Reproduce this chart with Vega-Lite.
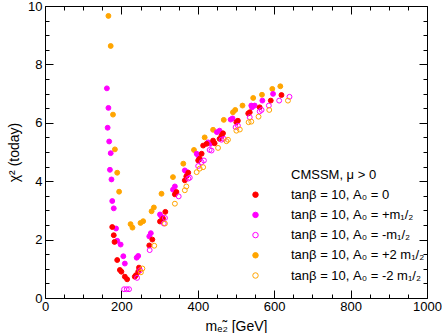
{
  "$schema": "https://vega.github.io/schema/vega-lite/v6.json",
  "autosize": "none",
  "width": 382,
  "height": 292,
  "padding": {"left": 45, "top": 6, "right": 15, "bottom": 35},
  "config": {
    "font": "Liberation Sans",
    "view": {"stroke": "black", "strokeWidth": 1},
    "axis": {"grid": false, "domain": false, "tickColor": "black", "labelColor": "black", "titleColor": "black", "labelFont": "Liberation Sans", "titleFont": "Liberation Sans", "labelFontSize": 13, "titleFontSize": 14, "titleFontWeight": "normal", "labelOverlap": false, "labelFlush": false}
  },
  "data": {"values": [
    {"s":"d","x":166,"y":9.66},{"s":"d","x":172,"y":8.63},{"s":"d","x":178,"y":6.28},{"s":"d","x":183,"y":5.09},{"s":"d","x":189,"y":4.29},{"s":"d","x":194,"y":3.64},{"s":"d","x":224,"y":2.53},{"s":"d","x":229,"y":2.41},{"s":"d","x":250,"y":2.57},{"s":"d","x":257,"y":2.63},{"s":"d","x":279,"y":2.97},{"s":"d","x":285,"y":3.10},{"s":"d","x":305,"y":3.57},{"s":"d","x":335,"y":4.14},{"s":"d","x":362,"y":4.60},{"s":"d","x":390,"y":5.07},{"s":"d","x":418,"y":5.50},{"s":"d","x":440,"y":5.76},{"s":"d","x":468,"y":6.10},{"s":"d","x":492,"y":6.36},{"s":"d","x":498,"y":6.44},{"s":"d","x":517,"y":6.59},{"s":"d","x":545,"y":6.85},{"s":"d","x":568,"y":6.96},{"s":"d","x":595,"y":7.16},{"s":"d","x":616,"y":7.25},
    {"s":"b","x":162,"y":7.18},{"s":"b","x":166,"y":6.51},{"s":"b","x":164,"y":5.83},{"s":"b","x":168,"y":5.36},{"s":"b","x":172,"y":4.96},{"s":"b","x":170,"y":4.39},{"s":"b","x":174,"y":4.06},{"s":"b","x":176,"y":3.32},{"s":"b","x":180,"y":3.07},{"s":"b","x":186,"y":2.38},{"s":"b","x":189,"y":1.96},{"s":"b","x":198,"y":1.83},{"s":"b","x":205,"y":1.43},{"s":"b","x":209,"y":1.18},{"s":"b","x":240,"y":1.38},{"s":"b","x":244,"y":1.44},{"s":"b","x":273,"y":2.11},{"s":"b","x":277,"y":2.22},{"s":"b","x":301,"y":2.86},{"s":"b","x":305,"y":2.78},{"s":"b","x":335,"y":3.71},{"s":"b","x":340,"y":3.82},{"s":"b","x":366,"y":4.37},{"s":"b","x":372,"y":4.31},{"s":"b","x":397,"y":4.94},{"s":"b","x":401,"y":4.88},{"s":"b","x":427,"y":5.33},{"s":"b","x":433,"y":5.28},{"s":"b","x":450,"y":5.68},{"s":"b","x":457,"y":5.73},{"s":"b","x":486,"y":6.11},{"s":"b","x":491,"y":6.15},{"s":"b","x":540,"y":6.59},{"s":"b","x":542,"y":6.53},{"s":"b","x":549,"y":6.59},{"s":"b","x":569,"y":6.76},{"s":"b","x":597,"y":6.99},
    {"s":"a","x":176,"y":2.43},{"s":"a","x":180,"y":2.15},{"s":"a","x":182,"y":1.92},{"s":"a","x":189,"y":1.30},{"s":"a","x":196,"y":0.96},{"s":"a","x":200,"y":0.90},{"s":"a","x":209,"y":0.73},{"s":"a","x":215,"y":0.64},{"s":"a","x":235,"y":0.73},{"s":"a","x":238,"y":0.78},{"s":"a","x":244,"y":0.90},{"s":"a","x":246,"y":1.04},{"s":"a","x":273,"y":1.80},{"s":"a","x":281,"y":2.00},{"s":"a","x":301,"y":2.62},{"s":"a","x":309,"y":2.72},{"s":"a","x":315,"y":2.95},{"s":"a","x":340,"y":3.55},{"s":"a","x":344,"y":3.63},{"s":"a","x":366,"y":4.03},{"s":"a","x":370,"y":4.17},{"s":"a","x":375,"y":4.29},{"s":"a","x":401,"y":4.71},{"s":"a","x":405,"y":4.77},{"s":"a","x":410,"y":4.94},{"s":"a","x":414,"y":5.22},{"s":"a","x":423,"y":5.28},{"s":"a","x":440,"y":5.39},{"s":"a","x":444,"y":5.30},{"s":"a","x":457,"y":5.45},{"s":"a","x":462,"y":5.56},{"s":"a","x":466,"y":5.64},{"s":"a","x":501,"y":6.02},{"s":"a","x":505,"y":6.07},{"s":"a","x":532,"y":6.32},{"s":"a","x":536,"y":6.36},{"s":"a","x":562,"y":6.53},{"s":"a","x":591,"y":6.76},{"s":"a","x":619,"y":6.95},
    {"s":"c","x":207,"y":0.30},{"s":"c","x":214,"y":0.30},{"s":"c","x":220,"y":0.30},{"s":"c","x":241,"y":0.69},{"s":"c","x":249,"y":0.95},{"s":"c","x":274,"y":1.64},{"s":"c","x":311,"y":2.55},{"s":"c","x":314,"y":2.74},{"s":"c","x":350,"y":3.48},{"s":"c","x":375,"y":4.09},{"s":"c","x":379,"y":4.12},{"s":"c","x":401,"y":4.52},{"s":"c","x":410,"y":4.65},{"s":"c","x":416,"y":4.71},{"s":"c","x":431,"y":5.07},{"s":"c","x":436,"y":5.05},{"s":"c","x":462,"y":5.42},{"s":"c","x":468,"y":5.45},{"s":"c","x":499,"y":5.85},{"s":"c","x":505,"y":5.90},{"s":"c","x":536,"y":6.19},{"s":"c","x":562,"y":6.39},{"s":"c","x":567,"y":6.44},{"s":"c","x":586,"y":6.59},{"s":"c","x":613,"y":6.76},{"s":"c","x":640,"y":6.89},
    {"s":"e","x":251,"y":0.88},{"s":"e","x":255,"y":1.01},{"s":"e","x":286,"y":1.79},{"s":"e","x":314,"y":2.55},{"s":"e","x":340,"y":3.23},{"s":"e","x":366,"y":3.69},{"s":"e","x":370,"y":3.82},{"s":"e","x":397,"y":4.31},{"s":"e","x":405,"y":4.43},{"s":"e","x":414,"y":4.48},{"s":"e","x":453,"y":5.14},{"s":"e","x":475,"y":5.37},{"s":"e","x":479,"y":5.42},{"s":"e","x":501,"y":5.73},{"s":"e","x":510,"y":5.77},{"s":"e","x":533,"y":6.02},{"s":"e","x":540,"y":6.04},{"s":"e","x":559,"y":6.21},{"s":"e","x":587,"y":6.44},{"s":"e","x":636,"y":6.76}
  ]},
  "layer": [
    {
      "mark": {"type": "point", "shape": "circle", "size": 24, "strokeWidth": 1, "opacity": 1},
      "encoding": {
        "x": {"field": "x", "type": "quantitative", "scale": {"domain": [0, 1000], "nice": false, "zero": false},
          "axis": {"orient": "bottom", "title": "mₑ̃₂ [GeV]", "titlePadding": 2,
            "values": [0,50,100,150,200,250,300,350,400,450,500,550,600,650,700,750,800,850,900,950,1000],
            "labelExpr": "datum.value % 200 === 0 ? format(datum.value, 'd') : ''",
            "tickSize": {"condition": {"test": "datum.value % 200 === 0", "value": -8}, "value": -4},
            "labelPadding": 10}},
        "y": {"field": "y", "type": "quantitative", "scale": {"domain": [0, 10], "nice": false, "zero": false},
          "axis": {"orient": "left", "title": "χ² (today)", "titlePadding": 6,
            "values": [0,0.5,1,1.5,2,2.5,3,3.5,4,4.5,5,5.5,6,6.5,7,7.5,8,8.5,9,9.5,10],
            "labelExpr": "datum.value % 2 === 0 ? format(datum.value, 'd') : ''",
            "tickSize": {"condition": {"test": "datum.value % 2 === 0", "value": -8}, "value": -4},
            "labelPadding": 11}},
        "fill": {"field": "s", "type": "nominal",
          "scale": {"domain": ["t","a","b","c","d","e"], "range": ["transparent","#ff0000","#ff00ff","transparent","#ffa500","transparent"]},
          "legend": {"orient": "none", "legendX": 204, "legendY": 162, "padding": 0, "title": null,
            "labelFont": "Liberation Sans", "labelFontSize": 13, "labelColor": "black", "labelOffset": 29, "labelLimit": 250, "rowPadding": 6.2,
            "symbolType": "circle", "symbolSize": 30, "symbolStrokeWidth": 1,
            "labelExpr": "{'t': 'CMSSM, μ > 0', 'a': 'tanβ = 10, A₀ = 0', 'b': 'tanβ = 10, A₀ = +m₁/₂', 'c': 'tanβ = 10, A₀ = -m₁/₂', 'd': 'tanβ = 10, A₀ = +2 m₁/₂', 'e': 'tanβ = 10, A₀ = -2 m₁/₂'}[datum.label]"}},
        "stroke": {"field": "s", "type": "nominal",
          "scale": {"domain": ["t","a","b","c","d","e"], "range": ["transparent","#ff0000","#ff00ff","#ff00ff","#ffa500","#ffa500"]}}
      }
    },
    {
      "mark": {"type": "point", "opacity": 0},
      "encoding": {
        "x": {"field": "x", "type": "quantitative",
          "axis": {"orient": "top", "title": null, "labels": false,
            "values": [0,50,100,150,200,250,300,350,400,450,500,550,600,650,700,750,800,850,900,950,1000],
            "tickSize": {"condition": {"test": "datum.value % 200 === 0", "value": -8}, "value": -4}}},
        "y": {"field": "y", "type": "quantitative",
          "axis": {"orient": "right", "title": null, "labels": false,
            "values": [0,0.5,1,1.5,2,2.5,3,3.5,4,4.5,5,5.5,6,6.5,7,7.5,8,8.5,9,9.5,10],
            "tickSize": {"condition": {"test": "datum.value % 2 === 0", "value": -8}, "value": -4}}}
      }
    }
  ],
  "resolve": {"axis": {"x": "independent", "y": "independent"}}
}
